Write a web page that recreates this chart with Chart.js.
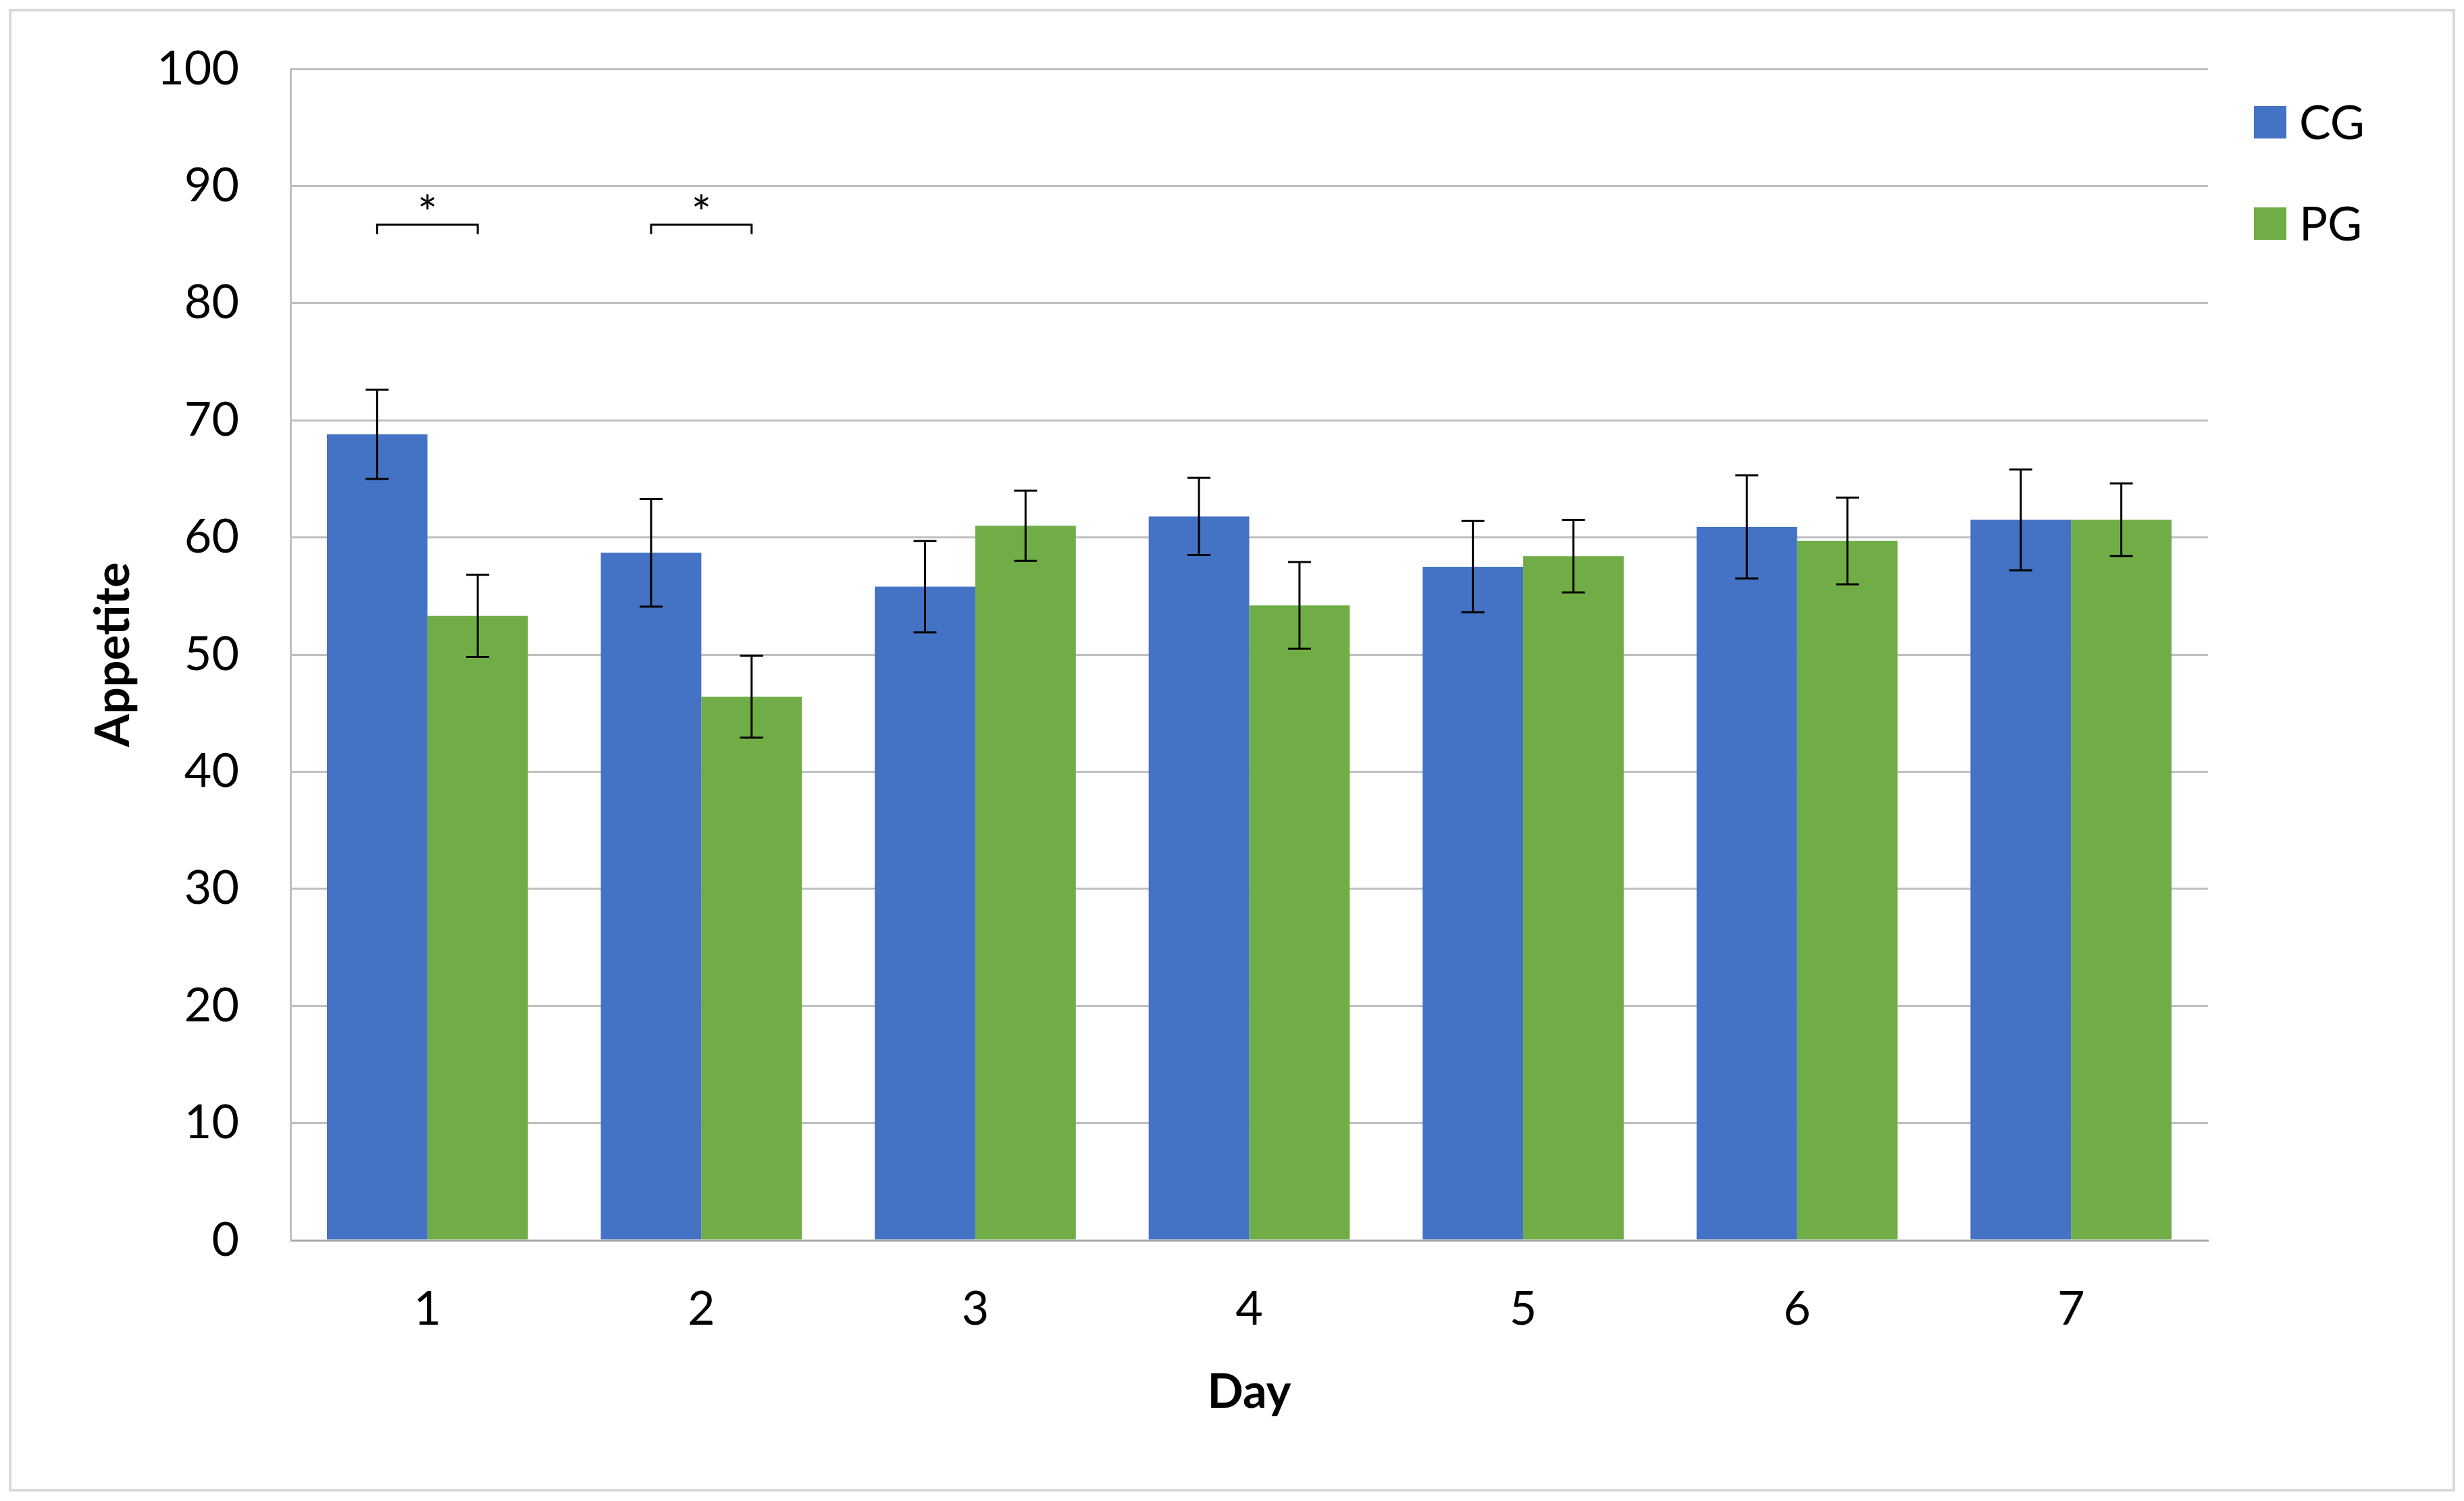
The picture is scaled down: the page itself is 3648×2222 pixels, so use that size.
<!DOCTYPE html>
<html>
<head>
  <title>Appetite by day</title>
  <script src="https://cdn.jsdelivr.net/npm/chart.js"></script>
  <style>
    body { margin: 0; background: #fff; }
    canvas { display: block; }
  </style>
</head>
<body>
  <canvas id="myChart" width="3648" height="2222"></canvas>
  <script>
    // values
    const days = ['1', '2', '3', '4', '5', '6', '7'];
    const cgValues = [68.8, 58.7, 55.8, 61.8, 57.5, 60.9, 61.5];
    const pgValues = [53.3, 46.4, 61.0, 54.2, 58.4, 59.7, 61.5];
    const cgErrors = [3.8, 4.6, 3.9, 3.3, 3.9, 4.4, 4.3];
    const pgErrors = [3.5, 3.5, 3.0, 3.7, 3.1, 3.7, 3.1];
    const starDays = [0, 1];      // days with a significance bracket
    const bracketValue = 86.7;
    const bracketDrop = 0.8;
    const starValue = 87.6;

    const errors = [cgErrors, pgErrors];

    Chart.defaults.font.family = 'Lato, "Liberation Sans", sans-serif';
    Chart.defaults.color = '#000';

    // error bars, significance brackets, legend and frame
    const extras = {
      id: 'extras',
      beforeDraw(chart) {
        const ctx = chart.ctx;
        ctx.save();
        ctx.fillStyle = '#fff';
        ctx.fillRect(0, 0, chart.width, chart.height);
        ctx.strokeStyle = '#d9d9d9';
        ctx.lineWidth = 4;
        ctx.strokeRect(15, 15, chart.width - 30, chart.height - 31);
        ctx.restore();
      },
      afterDatasetsDraw(chart) {
        const ctx = chart.ctx;
        const y = chart.scales.y;
        ctx.save();
        ctx.strokeStyle = '#000';
        ctx.lineWidth = 3;
        chart.data.datasets.forEach((ds, i) => {
          const meta = chart.getDatasetMeta(i);
          meta.data.forEach((bar, j) => {
            const v = ds.data[j];
            const e = errors[i][j];
            const top = y.getPixelForValue(v + e);
            const bot = y.getPixelForValue(v - e);
            ctx.beginPath();
            ctx.moveTo(bar.x, top);
            ctx.lineTo(bar.x, bot);
            ctx.moveTo(bar.x - 17, top);
            ctx.lineTo(bar.x + 17, top);
            ctx.moveTo(bar.x - 17, bot);
            ctx.lineTo(bar.x + 17, bot);
            ctx.stroke();
          });
        });

        const m0 = chart.getDatasetMeta(0);
        const m1 = chart.getDatasetMeta(1);
        ctx.font = '70px ' + Chart.defaults.font.family;
        ctx.fillStyle = '#000';
        ctx.textAlign = 'center';
        ctx.textBaseline = 'middle';
        starDays.forEach(d => {
          const x1 = m0.data[d].x;
          const x2 = m1.data[d].x;
          const yb = y.getPixelForValue(bracketValue);
          const yt = y.getPixelForValue(bracketValue - bracketDrop);
          ctx.beginPath();
          ctx.moveTo(x1, yt);
          ctx.lineTo(x1, yb);
          ctx.lineTo(x2, yb);
          ctx.lineTo(x2, yt);
          ctx.stroke();
          ctx.fillText('*', (x1 + x2) / 2, y.getPixelForValue(starValue));
        });
        ctx.restore();
      },
      afterDraw(chart) {
        const ctx = chart.ctx;
        ctx.save();
        ctx.font = '70px ' + Chart.defaults.font.family;
        ctx.textAlign = 'left';
        ctx.textBaseline = 'middle';
        chart.data.datasets.forEach((ds, i) => {
          const cy = 181 + i * 150;
          ctx.fillStyle = ds.backgroundColor;
          ctx.fillRect(3337, cy - 24, 48, 48);
          ctx.fillStyle = '#000';
          ctx.fillText(ds.label, 3404, cy + 2);
        });
        ctx.restore();
      }
    };

    const ctx = document.getElementById('myChart').getContext('2d');
    const myChart = new Chart(ctx, {
      type: 'bar',
      data: {
        labels: days,
        datasets: [
          { label: 'CG', data: cgValues, backgroundColor: '#4472C4' },
          { label: 'PG', data: pgValues, backgroundColor: '#70AD47' }
        ]
      },
      options: {
        responsive: false,
        animation: false,
        categoryPercentage: 0.734,
        barPercentage: 1.0,
        layout: { padding: { left: 60, top: 102, right: 379, bottom: 119 } },
        plugins: {
          legend: { display: false },
          tooltip: { enabled: false }
        },
        scales: {
          x: {
            grid: { display: false, drawTicks: false },
            border: { display: true, color: '#a6a6a6', width: 3 },
            ticks: { font: { size: 70 }, padding: 60 },
            title: { display: true, text: 'Day', font: { size: 70, weight: 'bold' }, padding: 0 },
            afterFit(scale) { scale.height = 267; }
          },
          y: {
            min: 0,
            max: 100,
            ticks: { stepSize: 10, font: { size: 70 }, padding: 6 },
            grid: { color: '#bfbfbf', lineWidth: 3, drawTicks: true, tickLength: 70, tickColor: 'rgba(0,0,0,0)' },
            border: { display: true, color: '#bfbfbf', width: 3 },
            title: { display: true, text: 'Appetite', font: { size: 70, weight: 'bold' }, padding: { top: 66 } },
            afterFit(scale) { scale.width = 370; }
          }
        }
      },
      plugins: [extras]
    });
  </script>
</body>
</html>
